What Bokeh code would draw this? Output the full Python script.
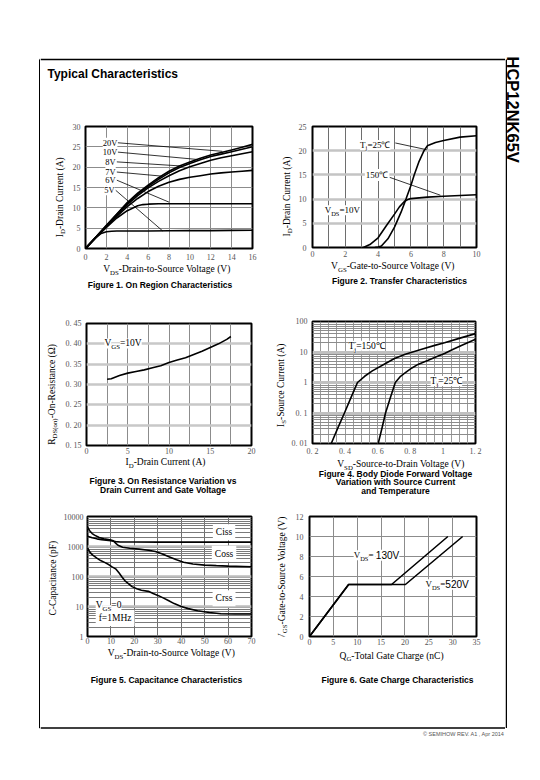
import math
from bokeh.plotting import figure
from bokeh.layouts import row, column
from bokeh.models import Range1d, FixedTicker, Label
from bokeh.embed import file_html
from bokeh.resources import INLINE

SERIF = "Liberation Serif"
SANS = "Liberation Sans"

# ---------------- Figure 1 : On region characteristics ----------------
f1_vds = [0, 1, 2, 3, 4, 5, 6, 7, 8, 9, 10, 11, 12, 13, 14, 15, 16]
f1_id_20v = [0, 2.8, 5.7, 8.5, 11.3, 13.6, 15.6, 17.4, 19.0, 20.3, 21.3, 22.2, 23.0, 23.6, 24.2, 24.9, 25.6]
f1_id_10v = [0, 2.8, 5.6, 8.4, 11.1, 13.4, 15.3, 17.0, 18.6, 19.9, 20.9, 21.8, 22.6, 23.2, 23.8, 24.4, 25.0]
f1_id_8v = [0, 2.8, 5.5, 8.2, 10.8, 13.0, 14.9, 16.5, 17.9, 19.1, 20.1, 20.9, 21.7, 22.3, 22.8, 23.3, 23.8]
f1_id_7v = [0, 2.7, 5.3, 7.9, 10.3, 12.3, 14.0, 15.3, 16.3, 17.0, 17.5, 17.9, 18.3, 18.6, 18.8, 19.0, 19.2]
f1_vds_6v = [0, 1, 2, 3, 4, 5, 5.5, 6, 7, 8, 10, 12, 14, 16]
f1_id_6v = [0, 2.7, 5.2, 7.5, 9.3, 10.5, 10.8, 10.9, 11.0, 11.0, 11.0, 11.0, 11.0, 11.0]
f1_vds_5v = [0, 0.5, 1, 1.5, 2, 2.5, 3, 4, 6, 8, 10, 12, 14, 16]
f1_id_5v = [0, 1.4, 2.7, 3.7, 4.1, 4.25, 4.3, 4.3, 4.3, 4.35, 4.4, 4.4, 4.45, 4.5]
f1_lab_text = ["20V", "10V", "8V", "7V", "6V", "5V"]
f1_lab_x = [2.35, 2.35, 2.4, 2.4, 2.4, 2.3]
f1_lab_y = [26.0, 23.7, 21.3, 18.8, 16.8, 14.3]
f1_lead_x0 = [3.1, 3.1, 3.0, 3.0, 3.0, 2.9]
f1_lead_y0 = [26.0, 23.7, 21.3, 18.8, 16.8, 14.3]
f1_lead_x1 = [13.1, 10.7, 9.1, 7.3, 8.0, 7.4]
f1_lead_y1 = [23.9, 21.9, 20.3, 17.8, 11.4, 4.3]

# ---------------- Figure 2 : Transfer characteristics ----------------
f2_vgs_25 = [3.8, 4.0, 4.2, 4.6, 5.0, 5.4, 5.7, 6.0, 6.2, 6.5, 6.8, 7.0, 7.5, 8.0, 9.0, 10.0]
f2_id_25 = [0, 0.1, 0.3, 1.8, 4.2, 7.3, 10.0, 12.8, 15.0, 17.8, 20.0, 21.0, 21.7, 22.1, 22.8, 23.1]
f2_vgs_150 = [3.1, 3.5, 4.0, 4.5, 5.0, 5.3, 5.6, 5.8, 6.0, 7.0, 8.0, 9.0, 10.0]
f2_id_150 = [0, 0.6, 2.0, 4.5, 6.9, 8.4, 9.5, 9.9, 10.1, 10.4, 10.6, 10.75, 10.9]
f2_lead_x0 = [5.05, 4.7]
f2_lead_y0 = [21.6, 14.5]
f2_lead_x1 = [6.97, 7.8]
f2_lead_y1 = [20.2, 10.8]

# ---------------- Figure 3 : On resistance ----------------
f3_id = [2.5, 3, 4, 5, 6, 7, 8, 9, 10, 11, 12, 13, 14, 15, 16, 17, 17.5]
f3_rds = [0.313, 0.314, 0.322, 0.328, 0.332, 0.336, 0.341, 0.346, 0.354, 0.360, 0.366,
          0.374, 0.382, 0.391, 0.400, 0.411, 0.418]

# ---------------- Figure 4 : Body diode forward voltage ----------------
f4_vsd_150 = [0.315, 0.355, 0.396, 0.436, 0.476, 0.52, 0.567, 0.648, 0.70, 0.769, 0.87, 0.95, 1.01, 1.1, 1.2]
f4_is_150 = [0.01, 0.032, 0.1, 0.32, 1.0, 1.6, 2.4, 4.2, 6.0, 8.5, 12.3, 16.5, 20, 28, 40]
f4_vsd_25 = [0.603, 0.625, 0.648, 0.68, 0.708, 0.74, 0.77, 0.81, 0.85, 0.91, 0.96, 1.01, 1.06, 1.11, 1.2]
f4_is_25 = [0.01, 0.03, 0.1, 0.35, 1.0, 1.6, 2.1, 3.0, 4.0, 5.4, 7.0, 8.9, 12, 16, 26]

# ---------------- Figure 5 : Capacitance ----------------
f5_vds_ciss = [0, 2, 4, 6, 8, 10, 11, 12, 14, 20, 30, 40, 50, 60, 70]
f5_ciss = [2200, 1950, 1800, 1700, 1620, 1550, 1500, 1450, 1420, 1410, 1400, 1400, 1400, 1400, 1400]
f5_vds_coss = [0, 1, 2, 3, 5, 7, 9, 10, 11, 12, 13, 15, 18, 22, 26, 29, 32, 35, 38, 41, 45, 50, 55, 60, 70]
f5_coss = [4400, 3300, 2700, 2400, 2000, 1800, 1700, 1650, 1550, 1300, 1100, 950, 870, 820, 750,
           680, 560, 450, 360, 300, 260, 240, 230, 222, 212]
f5_vds_crss = [0, 1, 2.1, 4, 5.6, 7.5, 9.2, 10.5, 12, 13.5, 14.8, 16, 17.6, 19, 21, 23, 26, 28, 30.3,
               32.5, 34.5, 37, 40, 43, 47, 52, 57, 63, 70]
f5_crss = [900, 650, 525, 410, 340, 290, 245, 210, 180, 130, 95, 72, 57, 46, 39, 35, 32, 27, 23,
           19, 15.8, 12.5, 10, 8.5, 7.2, 6.3, 5.7, 5.6, 5.6]

# ---------------- Figure 6 : Gate charge ----------------
f6_qg_130 = [0, 8.2, 17.2, 29.0]
f6_vgs_130 = [0, 5.2, 5.2, 10.0]
f6_qg_520 = [0, 8.2, 20.1, 32.1]
f6_vgs_520 = [0, 5.2, 5.2, 10.0]

# ---------------- text metrics (Times / Arial, per 1000 em) ----------------
TIMES_W = {c: 500 for c in "0123456789"}
TIMES_W.update({' ': 250, '(': 333, ')': 333, '-': 333, '.': 250, '=': 564, ',': 250,
                'A': 722, 'B': 667, 'C': 667, 'D': 722, 'E': 611, 'F': 556, 'G': 722, 'H': 722,
                'I': 333, 'J': 389, 'K': 722, 'L': 611, 'M': 889, 'N': 722, 'O': 722, 'P': 556,
                'Q': 722, 'R': 667, 'S': 556, 'T': 611, 'U': 722, 'V': 722, 'W': 944, 'X': 722,
                'Y': 722, 'Z': 611, 'a': 444, 'b': 500, 'c': 444, 'd': 500, 'e': 444, 'f': 333,
                'g': 500, 'h': 500, 'i': 278, 'j': 278, 'k': 500, 'l': 278, 'm': 778, 'n': 500,
                'o': 500, 'p': 500, 'q': 500, 'r': 333, 's': 389, 't': 278, 'u': 500, 'v': 500,
                'w': 722, 'x': 500, 'y': 500, 'z': 444, 'Ω': 768, '℃': 900})
ARIAL_W = {c: 556 for c in "0123456789"}
ARIAL_W.update({'V': 667, ' ': 278, '=': 584})


def rich(p, x, y, parts, size, dx=0.0, dy=0.0, align="left", angle=0.0, bg=None,
         pad=0, color="black"):
    """Text made of normal / subscript pieces; (x, y) is the vertical middle of the text."""
    items = []
    for t, st in parts:
        if st == "s":
            fs, fam, tab = size * 0.72, SERIF, TIMES_W
        elif st == "a":
            fs, fam, tab = size * 1.12, SANS, ARIAL_W
        else:
            fs, fam, tab = size, SERIF, TIMES_W
        w = sum(tab.get(c, 560) for c in t) * fs / 1000.0
        items.append((t, st, fs, fam, w))
    total = sum(it[4] for it in items)
    pos = {"left": 0.0, "center": -total / 2.0, "right": -total}[align]
    single = len(items) == 1
    for t, st, fs, fam, w in items:
        perp = -0.34 * size if st == "s" else 0.0
        if angle == 0:
            xo, yo = dx + pos, dy + perp
        else:
            xo, yo = dx - perp, dy + pos
        lab = Label(x=x, y=y, x_offset=xo, y_offset=yo, text=t, text_font=fam,
                    text_font_size=f"{fs:.2f}px", text_color=color, text_align="left",
                    text_baseline="middle", angle=angle)
        if bg is not None:
            lab.background_fill_color = bg
            lab.padding = pad if single else 0
        p.add_layout(lab)
        pos += w


def panel(w, h, left, right, top, bottom, xr, yr, xticks, yticks, ylog=False,
          xlabels=None, ylabels=None, xs=3, ys=5):
    p = figure(width=w, height=h, x_range=Range1d(*xr), y_range=Range1d(*yr),
               y_axis_type="log" if ylog else "linear", output_backend="svg",
               toolbar_location=None)
    p.min_border_left = left
    p.min_border_right = right
    p.min_border_top = top
    p.min_border_bottom = bottom
    p.title.visible = False
    p.outline_line_color = "black"
    p.outline_line_width = 2
    p.outline_line_alpha = 1.0
    p.border_fill_color = "white"
    p.background_fill_color = "white"
    p.xaxis.ticker = FixedTicker(ticks=xticks)
    p.yaxis.ticker = FixedTicker(ticks=yticks)
    if xlabels is not None:
        p.xaxis.major_label_overrides = dict(zip(xticks, xlabels))
    if ylabels is not None:
        p.yaxis.major_label_overrides = dict(zip(yticks, ylabels))
    p.axis.axis_line_color = None
    p.axis.major_tick_line_color = None
    p.axis.minor_tick_line_color = None
    p.axis.major_tick_out = 0
    p.axis.major_tick_in = 0
    p.axis.minor_tick_out = 0
    p.axis.minor_tick_in = 0
    p.axis.major_label_text_font = SERIF
    p.axis.major_label_text_font_size = "8px"
    p.axis.major_label_text_color = "#555555"
    p.xaxis.major_label_standoff = xs
    p.yaxis.major_label_standoff = ys
    return p


def style_grid(g, ticks, color, width, minor=None, minor_color=None, minor_width=1):
    if minor is None:
        g.ticker = FixedTicker(ticks=ticks)
    else:
        g.ticker = FixedTicker(ticks=ticks, minor_ticks=minor)
        g.minor_grid_line_color = minor_color
        g.minor_grid_line_width = minor_width
    g.grid_line_color = color
    g.grid_line_width = width
    g.grid_line_alpha = 1.0


def blank(w, h):
    p = figure(width=w, height=h, x_range=Range1d(0, w), y_range=Range1d(h, 0),
               output_backend="svg", toolbar_location=None,
               x_axis_location=None, y_axis_location=None)
    p.min_border_left = 0
    p.min_border_right = 0
    p.min_border_top = 0
    p.min_border_bottom = 0
    p.title.visible = False
    p.grid.visible = False
    p.outline_line_color = None
    p.border_fill_color = "white"
    p.background_fill_color = "white"
    return p


AX = 9.5  # axis label size
CAP = 8.5  # caption size


def cell(plot, ylab_w, top_h, cell_w, ox, oy, yparts, ycx, ycy,
         xparts, xcx, xcy, captions):
    """One chart cell: y-label strip | plot, with an x-label + caption strip below.
    Text centres are given in page pixels; (ox, oy) is the page origin of the cell."""
    yl = blank(ylab_w, top_h)
    rich(yl, ycx - ox, ycy - oy, yparts, AX, align="center", angle=math.pi / 2)
    bl = blank(cell_w, 200 - top_h)
    by0 = oy + top_h
    rich(bl, xcx - ox, xcy - by0, xparts, AX, align="center")
    for text, cx, cy in captions:
        bl.add_layout(Label(x=cx - ox, y=cy - by0, text=text, text_font=SANS,
                            text_font_style="bold", text_font_size=f"{CAP}px",
                            text_align="center", text_baseline="middle",
                            text_color="black"))
    return column(row(yl, plot), bl)


LW = 1.6

# ---------- Figure 1 ----------
p1 = panel(200, 163, 17, 16, 26, 15, (0, 16), (0, 30), list(range(0, 17, 2)), list(range(0, 31, 5)),
           xs=5, ys=5)
style_grid(p1.xgrid[0], list(range(2, 16, 2)), "#8c8c8c", 1)
style_grid(p1.ygrid[0], list(range(5, 30, 5)), "#8c8c8c", 1)
for ys_ in [f1_id_20v, f1_id_10v, f1_id_8v, f1_id_7v]:
    p1.line(f1_vds, ys_, line_color="black", line_width=LW)
p1.line(f1_vds_6v, f1_id_6v, line_color="black", line_width=LW)
p1.line(f1_vds_5v, f1_id_5v, line_color="black", line_width=LW)
p1.segment(x0=f1_lead_x0, y0=f1_lead_y0, x1=f1_lead_x1, y1=f1_lead_y1, line_color="black", line_width=0.8)
for t, x, y in zip(f1_lab_text, f1_lab_x, f1_lab_y):
    rich(p1, x, y, [(t, "n")], 8.5, align="center", bg="white", pad=0)
c1 = cell(p1, 28, 163, 228, 40, 100,
          [("I", "n"), ("D", "s"), ("-Drain Current (A)", "n")], 59, 194.5,
          [("V", "n"), ("DS", "s"), ("-Drain-to-Source Voltage (V)", "n")], 167, 268.7,
          [("Figure 1. On Region Characteristics", 159.5, 284.3)])

# ---------- Figure 2 ----------
p2 = panel(210, 160, 15, 29, 26, 13, (0, 10), (0, 25), list(range(0, 11, 2)), list(range(0, 26, 5)),
           xs=3, ys=6)
style_grid(p2.xgrid[0], list(range(1, 10)), "#6e6e6e", 1)
style_grid(p2.ygrid[0], list(range(5, 25, 5)), "#c4c4c4", 2.5)
p2.line(f2_vgs_25, f2_id_25, line_color="black", line_width=LW)
p2.line(f2_vgs_150, f2_id_150, line_color="black", line_width=LW)
p2.segment(x0=f2_lead_x0, y0=f2_lead_y0, x1=f2_lead_x1, y1=f2_lead_y1, line_color="black", line_width=0.8)
rich(p2, 3.8, 21.2, [("T", "n"), ("j", "s"), ("=25℃", "n")], 9, align="center", bg="white")
rich(p2, 3.85, 15.0, [("150℃", "n")], 9, align="center", bg="white", pad=1)
rich(p2, 1.82, 7.7, [("V", "n"), ("DS", "s"), ("=10V", "n")], 9, align="center", bg="white")
c2 = cell(p2, 27, 160, 237, 268, 100,
          [("I", "n"), ("D", "s"), ("-Drain Current (A)", "n")], 286, 192.5,
          [("V", "n"), ("GS", "s"), ("-Gate-to-Source Voltage (V)", "n")], 393, 265.7,
          [("Figure 2. Transfer Characteristics", 399, 280.5)])

# ---------- Figure 3 ----------
f3_yt = [0.15, 0.2, 0.25, 0.3, 0.35, 0.4, 0.45]
p3 = panel(206, 156, 23, 17, 23, 11, (0, 20), (0.15, 0.45), [0, 5, 10, 15, 20], f3_yt,
           ylabels=["0. 15", "0. 20", "0. 25", "0. 30", "0. 35", "0. 40", "0. 45"], xs=2, ys=5)
style_grid(p3.xgrid[0], [2.5, 5, 7.5, 10, 12.5, 15, 17.5], "#8c8c8c", 1)
style_grid(p3.ygrid[0], [0.2, 0.25, 0.3, 0.35, 0.4], "#c8c8c8", 2.5)
p3.line(f3_id, f3_rds, line_color="black", line_width=LW)
rich(p3, 4.43, 0.401, [("V", "n"), ("GS", "s"), ("=10V", "n")], 9.5, align="center", bg="white")
c3 = cell(p3, 22, 156, 228, 40, 300,
          [("R", "n"), ("DS(on)", "s"), ("-On-Resistance (Ω)", "n")], 51, 390.5,
          [("I", "n"), ("D", "s"), ("-Drain Current (A)", "n")], 165, 461.5,
          [("Figure 3. On Resistance Variation vs", 162.5, 480),
           ("Drain Current and Gate Voltage", 162.5, 489)])

# ---------- Figure 4 ----------
f4_xt = [0.2, 0.4, 0.6, 0.8, 1.0, 1.2]
f4_yt = [0.01, 0.1, 1, 10, 100]
p4 = panel(217, 158, 21, 30, 21, 15, (0.2, 1.2), (0.01, 100), f4_xt, f4_yt, ylog=True,
           xlabels=["0. 2", "0. 4", "0. 6", "0. 8", "1", "1. 2"],
           ylabels=["0. 01", "0. 1", "1", "10", "100"], xs=3, ys=5)
style_grid(p4.xgrid[0], [round(0.2 + 0.05 * k, 2) for k in range(1, 20)], "#9a9a9a", 1)
f4_minor = [m * d for d in [0.01, 0.1, 1, 10] for m in range(2, 10)]
style_grid(p4.ygrid[0], [0.1, 1, 10], "#c0c0c0", 3, minor=f4_minor, minor_color="#8c8c8c", minor_width=1)
p4.line(f4_vsd_150, f4_is_150, line_color="black", line_width=LW)
p4.line(f4_vsd_25, f4_is_25, line_color="black", line_width=LW)
rich(p4, 0.531, 15.9, [("T", "n"), ("j", "s"), ("=150℃", "n")], 9.5, align="center", bg="white")
rich(p4, 1.02, 1.13, [("T", "n"), ("j", "s"), ("=25℃", "n")], 9.5, align="center", bg="white")
c4 = cell(p4, 20, 158, 237, 268, 300,
          [("I", "n"), ("S", "s"), ("-Source Current (A)", "n")], 280, 382.5,
          [("V", "n"), ("SD", "s"), ("-Source-to-Drain Voltage (V)", "n")], 401, 463.3,
          [("Figure 4. Body Diode Forward Voltage", 395, 473.3),
           ("Variation with Source Current", 395, 481.7),
           ("and Temperature", 395, 490)])

# ---------- Figure 5 ----------
f5_yt = [1, 10, 100, 1000, 10000]
p5 = panel(208, 147, 25, 17, 16, 11, (0, 70), (1, 10000), list(range(0, 71, 10)), f5_yt, ylog=True,
           ylabels=["1", "10", "100", "1000", "10000"], xs=1, ys=4)
style_grid(p5.xgrid[0], list(range(10, 70, 10)), "#6e6e6e", 1)
f5_minor = [m * d for d in [1, 10, 100, 1000] for m in range(2, 10)]
style_grid(p5.ygrid[0], [10, 100, 1000], "#bdbdbd", 2.5, minor=f5_minor, minor_color="#7a7a7a", minor_width=1)
p5.line(f5_vds_ciss, f5_ciss, line_color="black", line_width=LW)
p5.line(f5_vds_coss, f5_coss, line_color="black", line_width=LW)
p5.line(f5_vds_crss, f5_crss, line_color="black", line_width=LW)
rich(p5, 57, 3000, [("Ciss", "n")], 9.5, align="center", bg="white", pad=3)
rich(p5, 57, 570, [("Coss", "n")], 9.5, align="center", bg="white", pad=3)
rich(p5, 57, 19, [("Crss", "n")], 9.5, align="center", bg="white", pad=3)
rich(p5, 3.5, 4.1, [("f=1MHz", "n")], 9.5, align="left", bg="white", pad=3)
rich(p5, 3.5, 10.8, [("V", "n"), ("GS", "s"), ("=0", "n")], 9.5, align="left", bg="white")
c5 = cell(p5, 20, 147, 228, 40, 500,
          [("C-Capacitance (pF)", "n")], 52, 575.5,
          [("V", "n"), ("DS", "s"), ("-Drain-to-Source Voltage (V)", "n")], 171.5, 652.5,
          [("Figure 5. Capacitance Characteristics", 166, 679)])

# ---------- Figure 6 ----------
p6 = panel(215, 149, 19, 29, 16, 13, (0, 35), (0, 12), list(range(0, 36, 5)), list(range(0, 13, 2)),
           xs=2, ys=6)
style_grid(p6.xgrid[0], list(range(5, 35, 5)), "#8c8c8c", 1)
style_grid(p6.ygrid[0], list(range(2, 12, 2)), "#8c8c8c", 1)
p6.line(f6_qg_130, f6_vgs_130, line_color="black", line_width=LW)
p6.line(f6_qg_520, f6_vgs_520, line_color="black", line_width=LW)
rich(p6, 9.26, 8.13, [("V", "n"), ("DS", "s"), ("= ", "n"), ("130V", "a")], 9, align="left", bg="white")
rich(p6, 24.3, 5.23, [("V", "n"), ("DS", "s"), ("=", "n"), ("520V", "a")], 9, align="left", bg="white")
c6 = cell(p6, 22, 149, 237, 268, 500,
          [("V", "n"), ("GS", "s"), ("-Gate-to-Source Voltage (V)", "n")], 281, 576,
          [("Q", "n"), ("G", "s"), ("-Total Gate Charge (nC)", "n")], 391.5, 655,
          [("Figure 6. Gate Charge Characteristics", 397, 679)])

# ---------- page decoration ----------
PAGE_H = 745
left_strip = blank(40, PAGE_H)
left_strip.segment(x0=[39.25], y0=[59], x1=[39.25], y1=[727.5], line_color="black", line_width=1.5)
left_strip.segment(x0=[39.25], y0=[59], x1=[40], y1=[59], line_color="black", line_width=1.5)
left_strip.segment(x0=[39.25], y0=[727.5], x1=[40], y1=[727.5], line_color="black", line_width=1.5)

right_strip = blank(27, PAGE_H)
right_strip.segment(x0=[0.75], y0=[59], x1=[0.75], y1=[727.5], line_color="black", line_width=1.5)
right_strip.add_layout(Label(x=7.5, y=56, text="HCP12NK65V", angle=-math.pi / 2, text_align="left",
                             text_baseline="middle", text_font=SANS, text_font_style="bold",
                             text_font_size="16.5px", text_color="black"))

header = blank(465, 100)
header.segment(x0=[0], y0=[59], x1=[465], y1=[59], line_color="black", line_width=1.5)
header.add_layout(Label(x=7, y=73, text="Typical Characteristics", text_align="left",
                        text_baseline="middle", text_font=SANS, text_font_style="bold",
                        text_font_size="12px", text_color="black"))

footer = blank(465, 45)
footer.segment(x0=[0], y0=[27.5], x1=[465], y1=[27.5], line_color="black", line_width=1.5)
footer.add_layout(Label(x=464, y=33.5, text="© SEMIHOW REV. A1 , Apr 2014", text_align="right",
                        text_baseline="middle", text_font=SANS, text_font_size="5.5px",
                        text_color="#555555"))

middle = column(header, row(c1, c2), row(c3, c4), row(c5, c6), footer)
layout = row(left_strip, middle, right_strip)

open("out.html", "w").write(file_html(layout, INLINE))
